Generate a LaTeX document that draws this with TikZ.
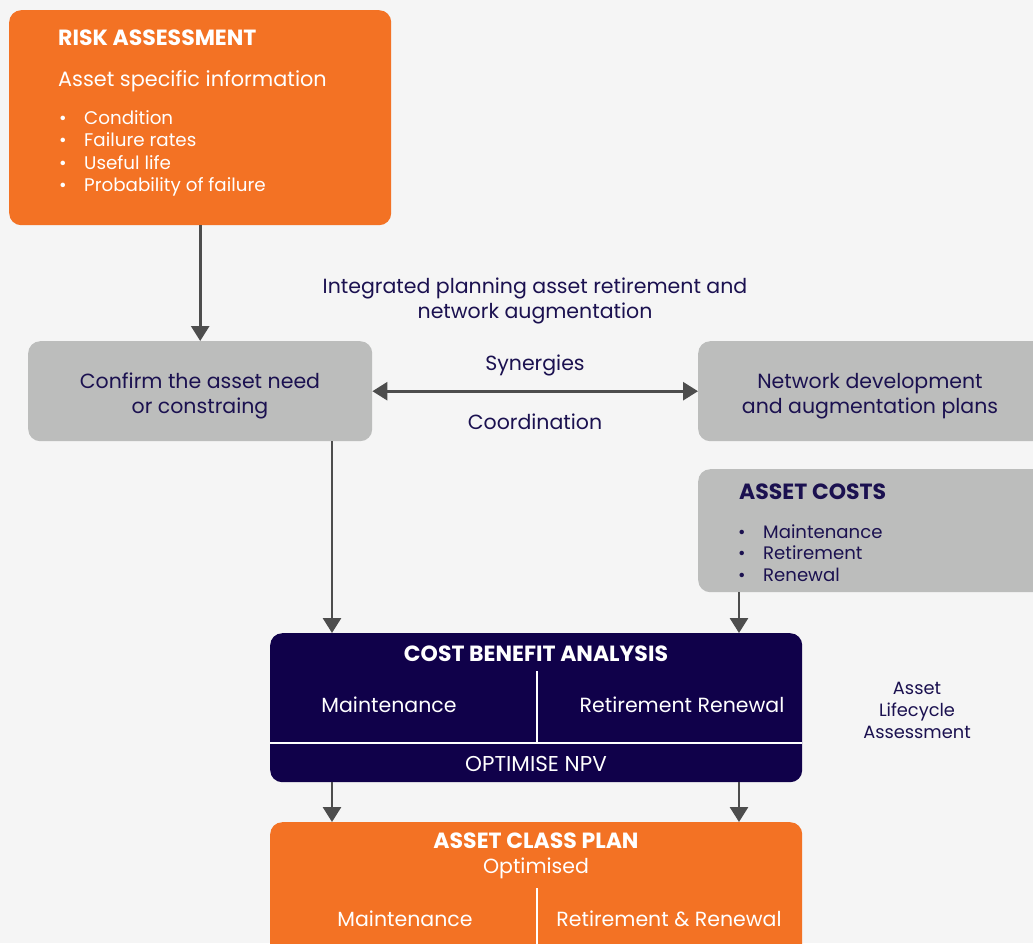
\documentclass[tikz,border=0pt]{standalone}
\usepackage{fontspec}
\setmainfont{Poppins}
\usetikzlibrary{positioning,arrows.meta}

\definecolor{orangeAC}{HTML}{F37224}
\definecolor{navyAC}{HTML}{10014A}
\definecolor{greyAC}{HTML}{BCBDBC}
\definecolor{navyTxt}{HTML}{1B1150}
\definecolor{flecheGrey}{HTML}{4D4D4D}
\definecolor{fondAC}{HTML}{F5F5F5}

\newcommand{\itm}[1]{\makebox[25pt][l]{\textbullet}#1}

\tikzset{
  box/.style={rounded corners=12pt, inner sep=0pt, anchor=north west},
  orangebox/.style={box, fill=orangeAC},
  greybox/.style={box, fill=greyAC},
  navybox/.style={box, fill=navyAC},
  txt/.style={font=\fontsize{20.5}{25}\selectfont, text=navyTxt, inner sep=0pt, align=center},
  wtxt/.style={txt, text=white},
  titre/.style={font=\fontsize{22}{25}\selectfont\bfseries},
  liste/.style={font=\fontsize{18.3}{22.3}\selectfont, align=left, anchor=north west},
  fleche/.style={draw=flecheGrey, line width=2.8pt, -{Triangle[width=18pt,length=15pt]}},
  fleches/.style={fleche, {Triangle[width=18pt,length=15pt]}-{Triangle[width=18pt,length=15pt]}},
}

\begin{document}
\begin{tikzpicture}[x=1pt, y=-1pt]
\fill[fondAC] (0,0) rectangle (1033,943);
\clip (0,0) rectangle (1033,943);

% Boîtes
\node[orangebox, minimum width=382pt, minimum height=215pt] (risk) at (9,10) {};
\node[greybox, minimum width=344pt, minimum height=100pt] (confirm) at (28,341) {};
\node[greybox, minimum width=350pt, minimum height=100pt] (netdev) at (698,341) {};
\node[greybox, minimum width=350pt, minimum height=123pt] (costs) at (698,469) {};
\node[navybox, minimum width=532pt, minimum height=149pt] (cba) at (270,633) {};
\node[orangebox, minimum width=532pt, minimum height=140pt] (acp) at (270,822) {};

% Textes : évaluation des risques
\node[wtxt, titre, anchor=base west] (riskT) at (58,45) {RISK ASSESSMENT};
\node[wtxt, anchor=base west, font=\fontsize{20.8}{25}\selectfont] (riskS) at (58,86) {Asset specific information};
\node[wtxt, liste] (riskL) at (59,110.5) {\itm{Condition}\\ \itm{Failure rates}\\ \itm{Useful life}\\ \itm{Probability of failure}};

% Textes : planification
\node[txt] (integ) at (535,301) {Integrated planning asset retirement and\\ network augmentation};
\node[txt] (confirmT) at (200,396) {Confirm the asset need\\ or constraing};
\node[txt] (netdevT) at (870,396) {Network development\\ and augmentation plans};
\node[txt, anchor=base] (syn) at (535,370) {Synergies};
\node[txt, anchor=base] (coord) at (535,429) {Coordination};

% Textes : coûts
\node[txt, titre, anchor=base west] (costsT) at (739,499) {ASSET COSTS};
\node[txt, liste, font=\fontsize{18.1}{21.5}\selectfont] (costsL) at (738,524.5) {\itm{Maintenance}\\ \itm{Retirement}\\ \itm{Renewal}};

% Textes : analyse coûts-bénéfices
\node[wtxt, titre, anchor=base] (cbaT) at (536,661) {COST BENEFIT ANALYSIS};
\node[wtxt, anchor=base] (cbaM) at (389,712) {Maintenance};
\node[wtxt, anchor=base] (cbaR) at (682,712) {Retirement Renewal};
\node[wtxt, anchor=base, font=\fontsize{21.5}{25}\selectfont] (npv) at (536,771) {OPTIMISE NPV};
\draw[white, line width=1.5pt] (537,671) -- (537,743);
\draw[white, line width=1.5pt] (cba.west |- 0,743) -- (cba.east |- 0,743);
\node[txt, font=\fontsize{17.8}{22}\selectfont] (life) at (917,710) {Asset\\ Lifecycle\\ Assessment};

% Textes : plan de classe
\node[wtxt, titre, anchor=base] (acpT) at (536,848) {ASSET CLASS PLAN};
\node[wtxt, anchor=base] (acpO) at (536,873) {Optimised};
\node[wtxt, anchor=base] (acpM) at (405,926) {Maintenance};
\node[wtxt, anchor=base] (acpR) at (669,926) {Retirement \& Renewal};
\draw[white, line width=1.5pt] (537,888) -- (537,950);

% Flèches
\coordinate (inL) at (332,633);
\coordinate (inR) at (739,633);
\coordinate (outL) at (332,782);
\coordinate (outR) at (739,782);
\draw[fleche] (risk.south) -- (confirm.north);
\draw[fleches] (confirm.east) -- (netdev.west);
\draw[fleche] (confirm.south -| inL) -- (inL);
\draw[fleche] (costs.south -| inR) -- (inR);
\draw[fleche] (outL) -- (acp.north -| outL);
\draw[fleche] (outR) -- (acp.north -| outR);
\end{tikzpicture}
\end{document}
